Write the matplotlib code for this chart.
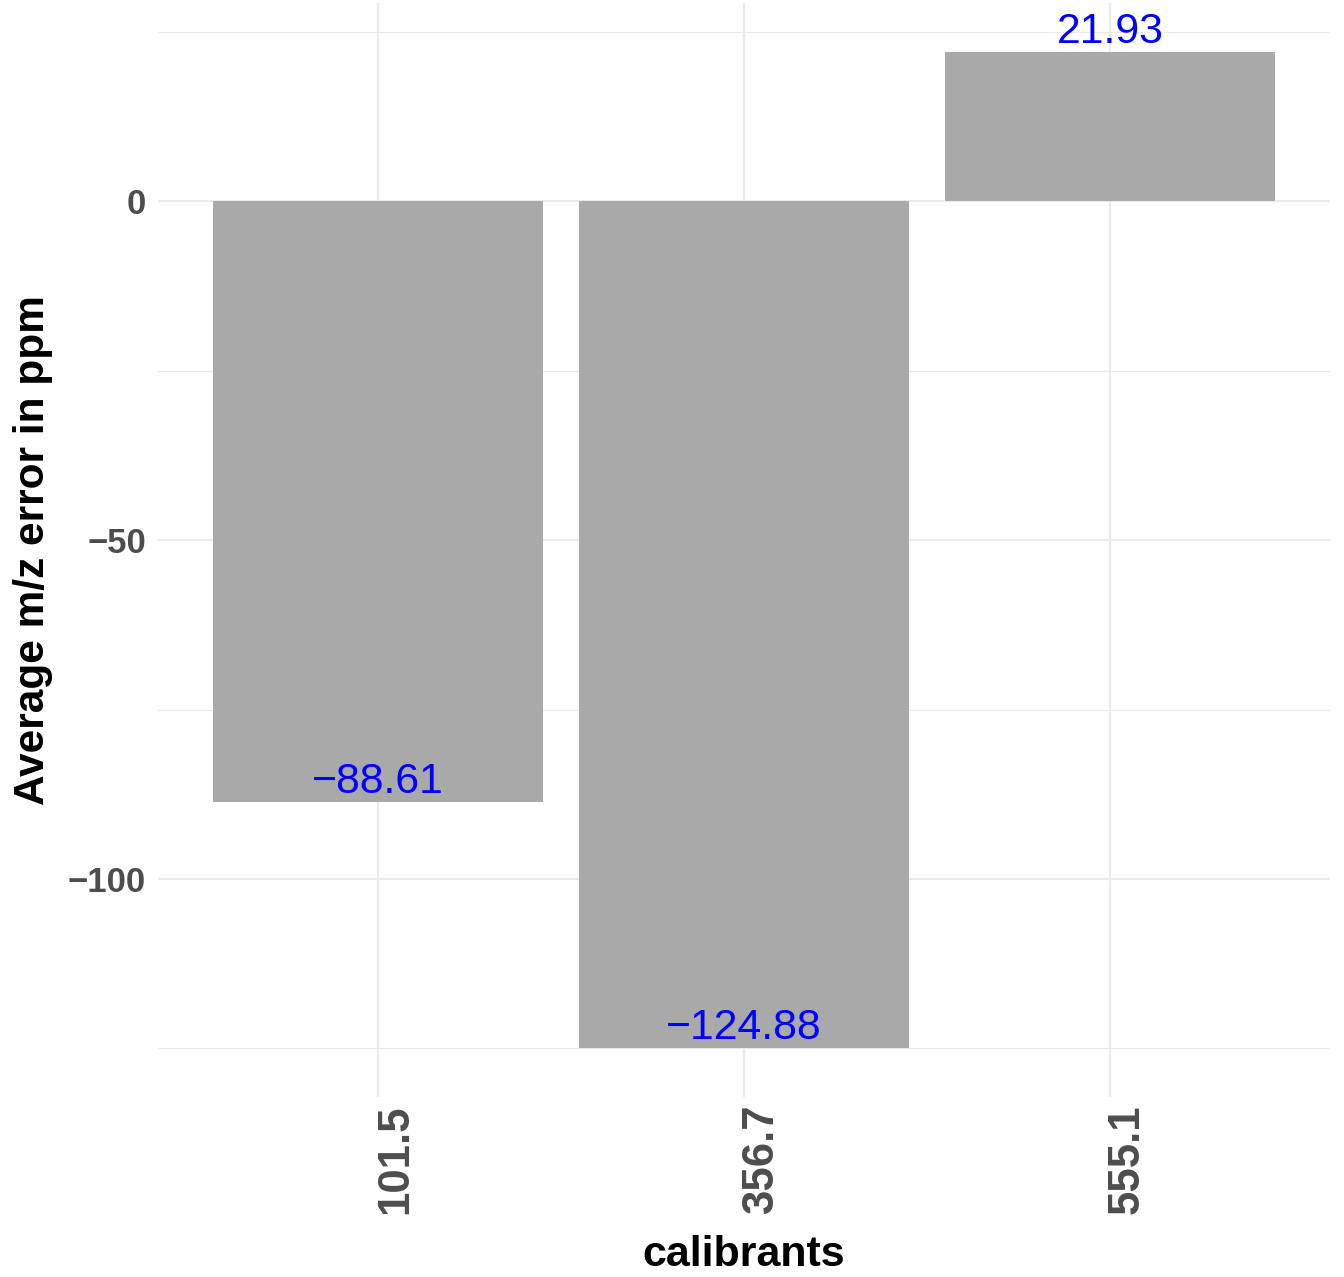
import numpy as np
import matplotlib
matplotlib.use("Agg")
import matplotlib.pyplot as plt
import matplotlib.transforms as mtransforms
from matplotlib.ticker import FixedLocator

# data
calibrants = ["101.5", "356.7", "555.1"]
avg_error = [-88.61, -124.88, 21.93]

plt.rcParams['font.family'] = ['Liberation Sans', 'DejaVu Sans']

fig = plt.figure(figsize=(13.44, 12.77), dpi=100)
ax = fig.add_axes([0.1179, 0.1406, 0.9893 - 0.1179, 0.998 - 0.1406])

x = np.arange(1, len(calibrants) + 1)
ax.bar(x, avg_error, width=0.9, color='#A9A9A9', zorder=2)

# value labels
for xi, v in zip(x, avg_error):
    lab = f"{v:.2f}".replace("-", "\u2212")
    ax.text(xi, v, lab, ha='center', va='bottom', color='blue',
            fontsize=30.8, zorder=3)

# ggplot-like expansion
lo, hi = min(avg_error), max(avg_error)
pad = 0.05 * (hi - lo)
ax.set_ylim(lo - pad, hi + pad)
ax.set_xlim(0.4, len(calibrants) + 0.6)

ax.set_xticks(x)
ax.set_xticklabels(calibrants, rotation=90, fontsize=31.5, fontweight='bold',
                   color='#4D4D4D')
ax.set_yticks([-100, -50, 0])
ax.set_yticklabels(["\u2212100", "\u221250", "0"], fontsize=25,
                   fontweight='bold', color='#4D4D4D')
ax.yaxis.set_minor_locator(FixedLocator([-125, -75, -25, 25]))
ax.tick_params(axis='both', which='both', length=0)
ax.tick_params(axis='y', pad=9)
ax.tick_params(axis='x', pad=5)

# rotated x labels sit a bit right of the tick, like in ggplot
shift = mtransforms.ScaledTranslation(0.175, 0, fig.dpi_scale_trans)
for lab in ax.get_xticklabels():
    lab.set_transform(lab.get_transform() + shift)

ax.grid(True, which='major', axis='both', color='#EBEBEB', linewidth=1.6, zorder=0)
ax.grid(True, which='minor', axis='y', color='#EBEBEB', linewidth=0.8, zorder=0)
ax.set_axisbelow(True)
for s in ax.spines.values():
    s.set_visible(False)

ax.set_xlabel("calibrants", fontsize=31, fontweight='bold', labelpad=15)
ax.set_ylabel("Average m/z error in ppm", fontsize=30.5, fontweight='bold', labelpad=11)

fig.savefig("out.png", dpi=100)
